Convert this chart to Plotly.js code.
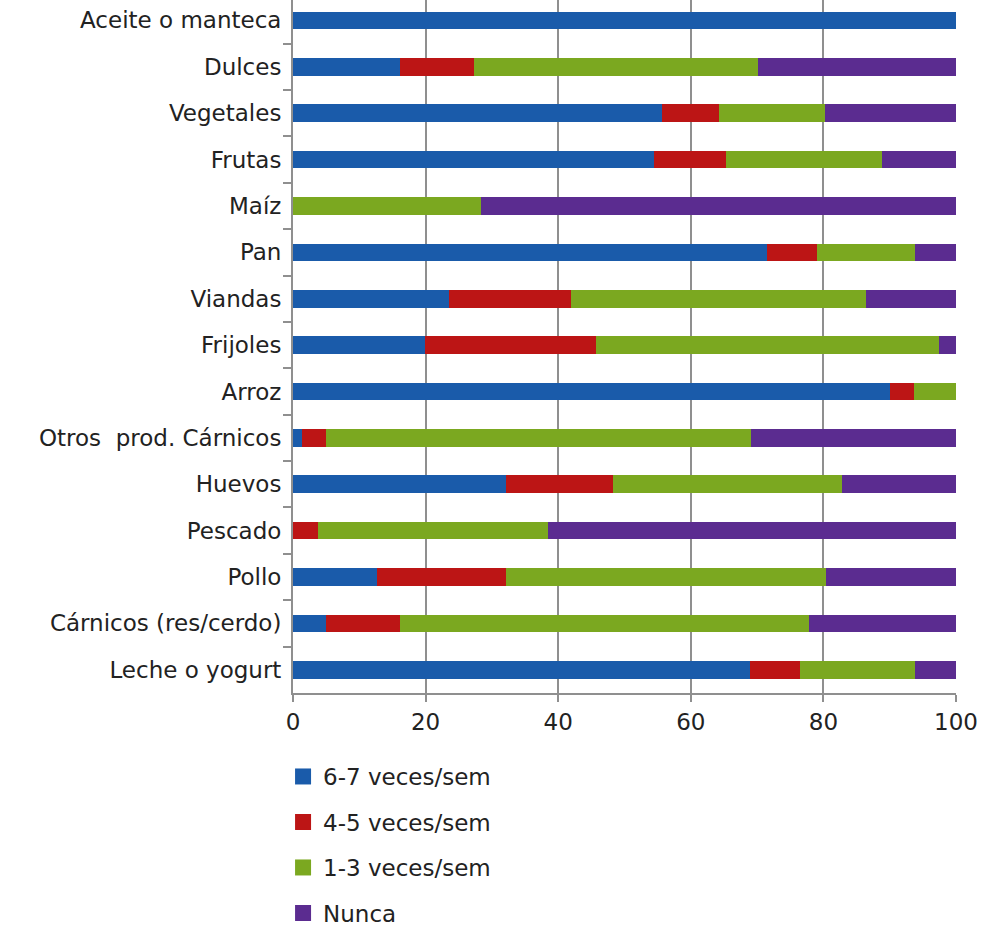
<!DOCTYPE html>
<html>
<head>
<meta charset="utf-8">
<script src="https://cdn.plot.ly/plotly-3.0.1.min.js"></script>
<style>
html, body { margin: 0; padding: 0; background: #ffffff; }
#chart { width: 987px; height: 926px; }
</style>
</head>
<body>
<div id="chart"></div>
<script>
// Categories, listed top to bottom as in the reference
const categories = [
  "Aceite o manteca", "Dulces", "Vegetales", "Frutas", "Maíz", "Pan",
  "Viandas", "Frijoles", "Arroz", "Otros  prod. Cárnicos", "Huevos",
  "Pescado", "Pollo", "Cárnicos (res/cerdo)", "Leche o yogurt"
];

// Series values (percent), same order as categories
const seriesNames = ["6-7 veces/sem", "4-5 veces/sem", "1-3 veces/sem", "Nunca"];
const v67   = [100, 16.1, 55.7, 54.5, 0,    71.5, 23.6, 19.9, 90.0, 1.4, 32.2, 0,    12.7, 5.0,  69.0];
const v45   = [0,   11.2, 8.6,  10.8, 0,    7.5,  18.4, 25.8, 3.7,  3.6, 16.0, 3.7,  19.5, 11.2, 7.5];
const v13   = [0,   42.9, 15.9, 23.6, 28.4, 14.8, 44.4, 51.7, 6.3,  64.1, 34.6, 34.8, 48.2, 61.6, 17.3];
const vNunca= [0,   29.8, 19.8, 11.1, 71.6, 6.2,  13.6, 2.6,  0,    30.9, 17.2, 61.5, 19.6, 22.2, 6.2];

const xTicks = [0, 20, 40, 60, 80, 100];
const colors = ["#1A5BAA", "#BC1515", "#7BA820", "#5B2C90"];

const allValues = [v67, v45, v13, vNunca];
const data = [];
allValues.forEach((vals, i) => {
  data.push({
    type: "bar",
    orientation: "h",
    y: categories,
    x: vals,
    name: seriesNames[i],
    marker: { color: colors[i], line: { width: 0 } },
    showlegend: false,
    hoverinfo: "x+y+name"
  });
});
// legend entries
allValues.forEach((vals, i) => {
  data.push({
    type: "scatter",
    mode: "markers",
    x: [null],
    y: [null],
    name: seriesNames[i],
    legendgroup: "g" + i,
    marker: { symbol: "square", size: 18, color: colors[i] },
    showlegend: true
  });
});

const font = { family: "DejaVu Sans, Verdana, sans-serif", size: 23, color: "#222222" };

const layout = {
  width: 987,
  height: 926,
  margin: { l: 292.5, r: 31, t: 0, b: 233, autoexpand: false },
  paper_bgcolor: "#ffffff",
  plot_bgcolor: "#ffffff",
  barmode: "stack",
  bargap: 0.62,
  font: font,
  xaxis: {
    range: [0, 100],
    tickvals: xTicks,
    ticktext: xTicks.map(String),
    showgrid: true,
    gridcolor: "#8f8f8f",
    gridwidth: 2,
    zeroline: false,
    showline: true,
    linecolor: "#8f8f8f",
    linewidth: 2,
    ticks: "outside",
    ticklen: 7,
    tickcolor: "#8f8f8f",
    tickwidth: 2,
    tickfont: font,
    automargin: false,
    fixedrange: true
  },
  yaxis: {
    type: "category",
    categoryorder: "array",
    categoryarray: categories,
    range: [14.5, -0.44],
    showgrid: false,
    zeroline: false,
    showline: true,
    linecolor: "#8f8f8f",
    linewidth: 2,
    ticks: "outside",
    tickson: "boundaries",
    ticklen: 8,
    tickcolor: "#8f8f8f",
    tickwidth: 2,
    tickfont: font,
    ticklabelstandoff: 5,
    automargin: false,
    fixedrange: true
  },
  legend: {
    x: -0.015,
    xanchor: "left",
    y: -0.0895,
    yanchor: "top",
    traceorder: "grouped",
    tracegroupgap: 12.6,
    font: font,
    bgcolor: "rgba(0,0,0,0)",
    borderwidth: 0
  },
  showlegend: true
};

Plotly.newPlot("chart", data, layout, { displayModeBar: false, staticPlot: true });
</script>
</body>
</html>
